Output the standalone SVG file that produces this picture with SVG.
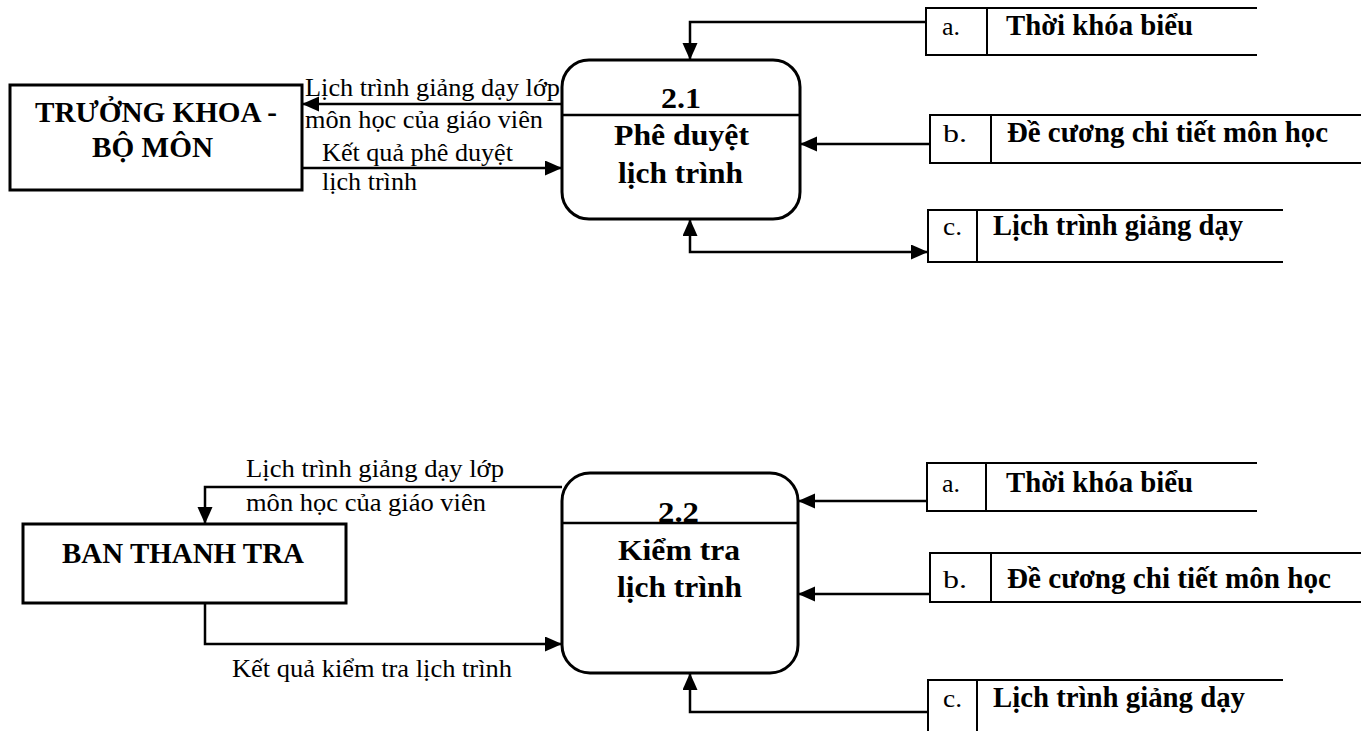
<svg xmlns="http://www.w3.org/2000/svg" width="1363" height="731" viewBox="0 0 1363 731">
  <style>
    .box { fill: #fff; stroke: #000; stroke-width: 3; }
    .proc { fill: #fff; stroke: #000; stroke-width: 3; }
    .sep { stroke: #000; stroke-width: 2.5; }
    .store { fill: none; stroke: #000; stroke-width: 2; }
    .flow { fill: none; stroke: #000; stroke-width: 2.5; marker-end: url(#arrow); }
    .both { marker-start: url(#arrow-start); }
    text { font-family: "Liberation Serif", "Times New Roman", "DejaVu Serif", serif; fill: #000; }
    .lbl { font-size: 25px; }
    .node { font-size: 29px; font-weight: bold; }
    .key { font-size: 26px; }
    .name { font-size: 30px; font-weight: bold; }
  </style>
  <defs>
    <marker id="arrow" markerUnits="userSpaceOnUse" markerWidth="18" markerHeight="16" refX="17" refY="7.5" orient="auto">
      <path d="M0,0 L17,7.5 L0,15 z" fill="#000"/>
    </marker>
    <marker id="arrow-start" markerUnits="userSpaceOnUse" markerWidth="18" markerHeight="16" refX="17" refY="7.5" orient="auto-start-reverse">
      <path d="M0,0 L17,7.5 L0,15 z" fill="#000"/>
    </marker>
  </defs>

  <rect width="1363" height="731" fill="#fff"/>

  <!-- connectors -->
  <g id="connectors">
    <!-- upper part: process 2.1 -->
    <path class="flow" d="M926,22 H690 V60"/>
    <path class="flow" d="M562,104 H302"/>
    <path class="flow" d="M302,168 H562"/>
    <path class="flow" d="M930,144 H800"/>
    <path class="flow both" d="M690,219 V252 H928"/>
    <!-- lower part: process 2.2 -->
    <path class="flow" d="M927,501 H798"/>
    <path class="flow" d="M930,594 H798"/>
    <path class="flow" d="M928,712 H690 V673"/>
    <path class="flow" d="M562,487 H205 V524"/>
    <path class="flow" d="M205,603 V644 H562"/>
  </g>

  <!-- connector labels -->
  <g id="flow-labels" class="lbl">
    <text x="305" y="96" textLength="255" lengthAdjust="spacingAndGlyphs">Lịch trình giảng dạy lớp</text>
    <text x="305" y="128" textLength="238" lengthAdjust="spacingAndGlyphs">môn học của giáo viên</text>
    <text x="322" y="161" textLength="191" lengthAdjust="spacingAndGlyphs">Kết quả phê duyệt</text>
    <text x="322" y="190" textLength="95" lengthAdjust="spacingAndGlyphs">lịch trình</text>
    <text x="246" y="477" textLength="258" lengthAdjust="spacingAndGlyphs">Lịch trình giảng dạy lớp</text>
    <text x="246" y="511" textLength="240" lengthAdjust="spacingAndGlyphs">môn học của giáo viên</text>
    <text x="232" y="677" textLength="280" lengthAdjust="spacingAndGlyphs">Kết quả kiểm tra lịch trình</text>
  </g>

  <!-- external entity: TRƯỞNG KHOA - BỘ MÔN -->
  <g id="truong-khoa">
    <rect class="box" x="10" y="85" width="292" height="105"/>
    <text class="node" x="35" y="122" textLength="242" lengthAdjust="spacingAndGlyphs">TRƯỞNG KHOA -</text>
    <text class="node" x="92" y="157" textLength="121" lengthAdjust="spacingAndGlyphs">BỘ MÔN</text>
  </g>

  <!-- process 2.1 -->
  <g id="p21">
    <rect class="proc" x="562" y="60" width="238" height="159" rx="27" ry="27"/>
    <line class="sep" x1="562" y1="115" x2="800" y2="115"/>
    <text class="node" x="661" y="108" textLength="40" lengthAdjust="spacingAndGlyphs">2.1</text>
    <text class="node" x="614" y="145" textLength="135" lengthAdjust="spacingAndGlyphs">Phê duyệt</text>
    <text class="node" x="618" y="183" textLength="125" lengthAdjust="spacingAndGlyphs">lịch trình</text>
  </g>

  <!-- data stores, upper part -->
  <g id="store-a1">
    <path class="store" d="M1257,8 H926 V55 H1257 M987,8 V55"/>
    <text class="key" x="942" y="35" textLength="18" lengthAdjust="spacingAndGlyphs">a.</text>
    <text class="name" x="1006" y="35" textLength="187" lengthAdjust="spacingAndGlyphs">Thời khóa biểu</text>
  </g>
  <g id="store-b1">
    <path class="store" d="M1361,115 H930 V163 H1361 M991,115 V163"/>
    <text class="key" x="943" y="142" textLength="24" lengthAdjust="spacingAndGlyphs">b.</text>
    <text class="name" x="1007" y="142" textLength="321" lengthAdjust="spacingAndGlyphs">Đề cương chi tiết môn học</text>
  </g>
  <g id="store-c1">
    <path class="store" d="M1283,210 H928 V262 H1283 M977,210 V262"/>
    <text class="key" x="943" y="235" textLength="19" lengthAdjust="spacingAndGlyphs">c.</text>
    <text class="name" x="993" y="235" textLength="250" lengthAdjust="spacingAndGlyphs">Lịch trình giảng dạy</text>
  </g>

  <!-- external entity: BAN THANH TRA -->
  <g id="ban-thanh-tra">
    <rect class="box" x="23" y="524" width="323" height="79"/>
    <text class="node" x="62" y="563" textLength="242" lengthAdjust="spacingAndGlyphs">BAN THANH TRA</text>
  </g>

  <!-- process 2.2 -->
  <g id="p22">
    <rect class="proc" x="562" y="473" width="236" height="200" rx="28" ry="28"/>
    <line class="sep" x1="562" y1="523" x2="798" y2="523"/>
    <text class="node" x="658" y="522" textLength="41" lengthAdjust="spacingAndGlyphs">2.2</text>
    <text class="node" x="618" y="560" textLength="122" lengthAdjust="spacingAndGlyphs">Kiểm tra</text>
    <text class="node" x="617" y="597" textLength="125" lengthAdjust="spacingAndGlyphs">lịch trình</text>
  </g>

  <!-- data stores, lower part -->
  <g id="store-a2">
    <path class="store" d="M1257,463 H927 V511 H1257 M986,463 V511"/>
    <text class="key" x="942" y="492" textLength="18" lengthAdjust="spacingAndGlyphs">a.</text>
    <text class="name" x="1006" y="492" textLength="187" lengthAdjust="spacingAndGlyphs">Thời khóa biểu</text>
  </g>
  <g id="store-b2">
    <path class="store" d="M1361,553 H930 V602 H1361 M991,553 V602"/>
    <text class="key" x="943" y="588" textLength="24" lengthAdjust="spacingAndGlyphs">b.</text>
    <text class="name" x="1007" y="588" textLength="324" lengthAdjust="spacingAndGlyphs">Đề cương chi tiết môn học</text>
  </g>
  <g id="store-c2">
    <path class="store" d="M1283,680 H928 V733 M977,680 V733"/>
    <text class="key" x="943" y="707" textLength="19" lengthAdjust="spacingAndGlyphs">c.</text>
    <text class="name" x="993" y="707" textLength="252" lengthAdjust="spacingAndGlyphs">Lịch trình giảng dạy</text>
  </g>
</svg>
